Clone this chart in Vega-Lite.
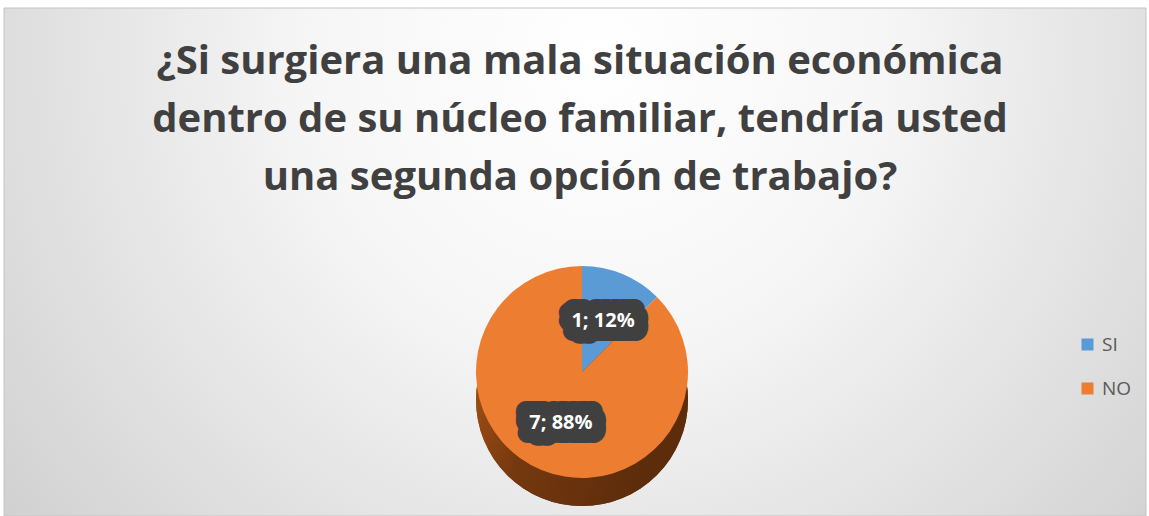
{
  "$schema": "https://vega.github.io/schema/vega-lite/v6.json",
  "width": 1142,
  "height": 508,
  "autosize": "none",
  "padding": {"left": 4, "top": 8, "right": 3, "bottom": 0},
  "background": "#ffffff",
  "config": {"view": {"stroke": null}},
  "title": {
    "text": [
      "¿Si surgiera una mala situación económica",
      "dentro de su núcleo familiar, tendría usted",
      "una segunda opción de trabajo?"
    ],
    "font": "Open Sans",
    "fontWeight": "bold",
    "fontSize": 40,
    "lineHeight": 58,
    "color": "#404040",
    "anchor": "middle",
    "dx": 5,
    "offset": -190
  },
  "data": {
    "values": [
      {"respuesta": "SI", "cantidad": 1, "etiqueta": "1; 12%"},
      {"respuesta": "NO", "cantidad": 7, "etiqueta": "7; 88%"}
    ]
  },
  "layer": [
    {
      "data": {"values": [{}]},
      "mark": {
        "type": "rect",
        "stroke": "#c4c4c4",
        "strokeWidth": 1,
        "fill": {
          "gradient": "radial",
          "x1": 0.52, "y1": 0.32, "r1": 0,
          "x2": 0.52, "y2": 0.32, "r2": 0.72,
          "stops": [
            {"offset": 0, "color": "#ffffff"},
            {"offset": 0.35, "color": "#f6f6f6"},
            {"offset": 1, "color": "#cbcbcb"}
          ]
        }
      },
      "encoding": {}
    },
    {
      "mark": {
        "type": "arc",
        "outerRadius": 106,
        "xOffset": 7,
        "yOffset": 110,
        "fill": {
          "gradient": "linear",
          "x1": 0, "y1": 0, "x2": 1, "y2": 0.4,
          "stops": [
            {"offset": 0, "color": "#b35716"},
            {"offset": 0.45, "color": "#74380f"},
            {"offset": 1, "color": "#5c2c0b"}
          ]
        }
      },
      "encoding": {"yOffset": {"value": 138}}
    },
    {
      "mark": {"type": "arc", "outerRadius": 106, "xOffset": 7, "yOffset": 110},
      "encoding": {
        "theta": {"field": "cantidad", "type": "quantitative", "stack": true},
        "order": {"field": "cantidad", "type": "quantitative", "sort": "ascending"},
        "color": {
          "field": "respuesta",
          "type": "nominal",
          "scale": {"domain": ["SI", "NO"], "range": ["#5b9bd5", "#ed7d31"]},
          "legend": {
            "orient": "none",
            "legendX": 1074,
            "legendY": 327,
            "title": null,
            "symbolType": "square",
            "symbolSize": 144,
            "symbolStrokeWidth": 0,
            "labelFont": "Open Sans",
            "labelFontSize": 19,
            "labelColor": "#595959",
            "labelOffset": 5,
            "rowPadding": 24
          }
        }
      }
    },
    {
      "mark": {"type": "text", "radius": 55, "xOffset": 7, "yOffset": 110, "dx": -4, "dy": -4, "font": "Open Sans", "fontWeight": "bold", "fontSize": 20, "fill": "#404040", "stroke": "#404040", "strokeWidth": 20, "strokeJoin": "round"},
      "encoding": {
        "theta": {"field": "cantidad", "type": "quantitative", "stack": true},
        "order": {"field": "cantidad", "type": "quantitative", "sort": "ascending"},
        "detail": {"field": "respuesta", "type": "nominal"},
        "text": {"field": "etiqueta", "type": "nominal"}
      }
    },
    {
      "mark": {"type": "text", "radius": 55, "xOffset": 7, "yOffset": 110, "dx": 4, "dy": -4, "font": "Open Sans", "fontWeight": "bold", "fontSize": 20, "fill": "#404040", "stroke": "#404040", "strokeWidth": 20, "strokeJoin": "round"},
      "encoding": {
        "theta": {"field": "cantidad", "type": "quantitative", "stack": true},
        "order": {"field": "cantidad", "type": "quantitative", "sort": "ascending"},
        "detail": {"field": "respuesta", "type": "nominal"},
        "text": {"field": "etiqueta", "type": "nominal"}
      }
    },
    {
      "mark": {"type": "text", "radius": 55, "xOffset": 7, "yOffset": 110, "dx": -4, "dy": 4, "font": "Open Sans", "fontWeight": "bold", "fontSize": 20, "fill": "#404040", "stroke": "#404040", "strokeWidth": 20, "strokeJoin": "round"},
      "encoding": {
        "theta": {"field": "cantidad", "type": "quantitative", "stack": true},
        "order": {"field": "cantidad", "type": "quantitative", "sort": "ascending"},
        "detail": {"field": "respuesta", "type": "nominal"},
        "text": {"field": "etiqueta", "type": "nominal"}
      }
    },
    {
      "mark": {"type": "text", "radius": 55, "xOffset": 7, "yOffset": 110, "dx": 4, "dy": 4, "font": "Open Sans", "fontWeight": "bold", "fontSize": 20, "fill": "#404040", "stroke": "#404040", "strokeWidth": 20, "strokeJoin": "round"},
      "encoding": {
        "theta": {"field": "cantidad", "type": "quantitative", "stack": true},
        "order": {"field": "cantidad", "type": "quantitative", "sort": "ascending"},
        "detail": {"field": "respuesta", "type": "nominal"},
        "text": {"field": "etiqueta", "type": "nominal"}
      }
    },
    {
      "mark": {
        "type": "text",
        "radius": 55,
        "xOffset": 7,
        "yOffset": 110,
        "font": "Open Sans",
        "fontWeight": "bold",
        "fontSize": 20,
        "fill": "#ffffff"
      },
      "encoding": {
        "theta": {"field": "cantidad", "type": "quantitative", "stack": true},
        "order": {"field": "cantidad", "type": "quantitative", "sort": "ascending"},
        "detail": {"field": "respuesta", "type": "nominal"},
        "text": {"field": "etiqueta", "type": "nominal"}
      }
    }
  ]
}
